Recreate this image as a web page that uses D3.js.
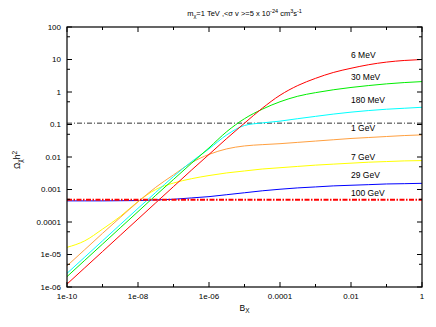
<!DOCTYPE html>
<html>
<head>
<meta charset="utf-8">
<script src="https://cdn.jsdelivr.net/npm/d3@7"></script>
<style>
  body { margin: 0; background: #fff; }
  svg text { font-family: "Liberation Sans", Arial, sans-serif; fill: #000; }
</style>
</head>
<body>
<svg id="chart" width="436" height="327"></svg>
<script>
// B_X grid (half decades from 1e-10 to 1)
const bValues = [1e-10, 3.16e-10, 1e-9, 3.16e-9, 1e-8, 3.16e-8, 1e-7, 3.16e-7, 1e-6, 3.16e-6,
  1e-5, 3.16e-5, 1e-4, 3.16e-4, 1e-3, 3.16e-3, 1e-2, 3.16e-2, 0.1, 0.316, 1];

// Omega_chi h^2 for each mediator mass
const omega6MeV = [1.23e-6, 3.89e-6, 1.23e-5, 3.89e-5, 1.23e-4, 3.89e-4, 1.23e-3, 3.89e-3, 1.20e-2, 3.72e-2,
  0.110, 0.316, 0.794, 1.58, 2.63, 3.98, 5.37, 6.92, 8.32, 9.33, 10.0];
const omega30MeV = [2.09e-6, 6.61e-6, 2.09e-5, 6.61e-5, 2.09e-4, 6.61e-4, 2.04e-3, 6.31e-3, 1.91e-2, 6.03e-2,
  0.151, 0.295, 0.501, 0.741, 0.955, 1.17, 1.38, 1.58, 1.78, 1.95, 2.09];
const omega180MeV = [2.63e-6, 8.32e-6, 2.63e-5, 8.32e-5, 2.63e-4, 8.13e-4, 2.51e-3, 7.08e-3, 1.78e-2, 4.79e-2,
  9.33e-2, 0.112, 0.127, 0.151, 0.178, 0.209, 0.240, 0.269, 0.295, 0.316, 0.339];
const omega1GeV = [4.47e-6, 1.41e-5, 4.47e-5, 1.38e-4, 4.17e-4, 1.17e-3, 2.82e-3, 6.61e-3, 1.20e-2, 1.78e-2,
  2.19e-2, 2.40e-2, 2.57e-2, 2.82e-2, 3.09e-2, 3.39e-2, 3.72e-2, 3.98e-2, 4.27e-2, 4.57e-2, 4.79e-2];
const omega7GeV = [1.66e-5, 2.63e-5, 6.03e-5, 1.48e-4, 4.27e-4, 1.00e-3, 1.58e-3, 2.14e-3, 2.69e-3, 3.24e-3,
  3.72e-3, 4.27e-3, 4.68e-3, 5.13e-3, 5.62e-3, 6.03e-3, 6.46e-3, 6.92e-3, 7.24e-3, 7.59e-3, 7.76e-3];
const omega29GeV = [4.47e-4, 4.47e-4, 4.47e-4, 4.52e-4, 4.57e-4, 4.79e-4, 5.01e-4, 5.50e-4, 6.03e-4, 6.92e-4,
  7.94e-4, 9.12e-4, 1.02e-3, 1.12e-3, 1.20e-3, 1.29e-3, 1.35e-3, 1.41e-3, 1.48e-3, 1.51e-3, 1.55e-3];

const seriesNames = ["6 MeV", "30 MeV", "180 MeV", "1 GeV", "7 GeV", "29 GeV"];
const seriesValues = [omega6MeV, omega30MeV, omega180MeV, omega1GeV, omega7GeV, omega29GeV];
const seriesColors = ["#ff0000", "#00ee00", "#00ffff", "#ffa040", "#ffff00", "#0000ff"];

// horizontal reference levels
const omegaBlackLine = 0.11;
const omegaRedLine = 4.8e-4;

// text labels next to the curves (last one belongs to the red dashed line)
const labelTexts = ["6 MeV", "30 MeV", "180 MeV", "1 GeV", "7 GeV", "29 GeV", "100 GeV"];
const labelOmegas = [13.8, 2.9, 0.56, 0.078, 0.0100, 0.0028, 7.9e-4];

const xTickValues = [1e-10, 1e-8, 1e-6, 1e-4, 1e-2, 1];
const xTickLabels = ["1e-10", "1e-08", "1e-06", "0.0001", "0.01", "1"];
const xMinorValues = [1e-9, 1e-7, 1e-5, 1e-3, 1e-1];
const yTickValues = [1e-6, 1e-5, 1e-4, 1e-3, 1e-2, 0.1, 1, 10, 100];
const yTickLabels = ["1e-06", "1e-05", "0.0001", "0.001", "0.01", "0.1", "1", "10", "100"];
const yMinorValues = [5e-6, 5e-5, 5e-4, 5e-3, 5e-2, 0.5, 5, 50];

const W = 436, H = 327;
const margin = { top: 27, right: 14, bottom: 40, left: 67 };
const iw = W - margin.left - margin.right;
const ih = H - margin.top - margin.bottom;

const svg = d3.select("#chart");
const x = d3.scaleLog().domain([1e-10, 1]).range([0, iw]);
const y = d3.scaleLog().domain([1e-6, 100]).range([ih, 0]);

const g = svg.append("g").attr("transform", `translate(${margin.left},${margin.top})`);

svg.append("defs").append("clipPath").attr("id", "clip")
  .append("rect").attr("width", iw).attr("height", ih);

const plot = g.append("g").attr("clip-path", "url(#clip)");

// reference lines
plot.append("line")
  .attr("x1", 0).attr("x2", iw)
  .attr("y1", y(omegaBlackLine)).attr("y2", y(omegaBlackLine))
  .attr("stroke", "#333").attr("stroke-width", 1)
  .attr("stroke-dasharray", "5,2,1,2");

const line = d3.line()
  .x((d, i) => x(bValues[i]))
  .y(d => y(d))
  .curve(d3.curveMonotoneX);

// draw in reverse so red is on top like the original
seriesValues.slice().reverse().forEach((vals, k) => {
  const idx = seriesValues.length - 1 - k;
  plot.append("path")
    .datum(vals)
    .attr("fill", "none")
    .attr("stroke", seriesColors[idx])
    .attr("stroke-width", 1)
    .attr("d", line);
});

plot.append("line")
  .attr("x1", 0).attr("x2", iw)
  .attr("y1", y(omegaRedLine)).attr("y2", y(omegaRedLine))
  .attr("stroke", "#ff0000").attr("stroke-width", 2)
  .attr("stroke-dasharray", "5,1.5,1.5,1.5");

// curve labels
g.selectAll(".curve-label")
  .data(labelTexts)
  .join("text")
  .attr("class", "curve-label")
  .attr("x", x(1e-2))
  .attr("y", (d, i) => y(labelOmegas[i]))
  .attr("dy", "0.35em")
  .attr("font-size", 8.5)
  .text(d => d);

// frame
g.append("rect")
  .attr("width", iw).attr("height", ih)
  .attr("fill", "none").attr("stroke", "#000").attr("stroke-width", 1.2);

// ticks pointing inwards on all four sides
const tk = g.append("g").attr("stroke", "#000").attr("stroke-width", 1);
xTickValues.forEach(v => {
  tk.append("line").attr("x1", x(v)).attr("x2", x(v)).attr("y1", ih).attr("y2", ih - 5);
  tk.append("line").attr("x1", x(v)).attr("x2", x(v)).attr("y1", 0).attr("y2", 5);
});
xMinorValues.forEach(v => {
  tk.append("line").attr("x1", x(v)).attr("x2", x(v)).attr("y1", ih).attr("y2", ih - 3);
  tk.append("line").attr("x1", x(v)).attr("x2", x(v)).attr("y1", 0).attr("y2", 3);
});
yTickValues.forEach(v => {
  tk.append("line").attr("x1", 0).attr("x2", 5).attr("y1", y(v)).attr("y2", y(v));
  tk.append("line").attr("x1", iw).attr("x2", iw - 5).attr("y1", y(v)).attr("y2", y(v));
});
yMinorValues.forEach(v => {
  tk.append("line").attr("x1", 0).attr("x2", 3).attr("y1", y(v)).attr("y2", y(v));
  tk.append("line").attr("x1", iw).attr("x2", iw - 3).attr("y1", y(v)).attr("y2", y(v));
});

// tick labels
g.selectAll(".xt").data(xTickValues).join("text")
  .attr("x", d => x(d)).attr("y", ih + 12)
  .attr("text-anchor", "middle").attr("font-size", 8)
  .text((d, i) => xTickLabels[i]);
g.selectAll(".yt").data(yTickValues).join("text")
  .attr("x", -6).attr("y", d => y(d)).attr("dy", "0.35em")
  .attr("text-anchor", "end").attr("font-size", 8)
  .text((d, i) => yTickLabels[i]);

// title
const title = svg.append("text")
  .attr("x", margin.left + iw / 2).attr("y", 16)
  .attr("text-anchor", "middle").attr("font-size", 7.5);
title.append("tspan").text("m");
title.append("tspan").attr("font-size", 5.5).attr("dy", 2).text("χ");
title.append("tspan").attr("dy", -2).text("=1 TeV ,<σ v >=5 x 10");
title.append("tspan").attr("font-size", 5.5).attr("dy", -3).text("-24");
title.append("tspan").attr("dy", 3).text(" cm");
title.append("tspan").attr("font-size", 5.5).attr("dy", -3).text("3");
title.append("tspan").attr("dy", 3).text("s");
title.append("tspan").attr("font-size", 5.5).attr("dy", -3).text("-1");

// x label
const xl = svg.append("text")
  .attr("x", margin.left + iw / 2).attr("y", 311)
  .attr("text-anchor", "middle").attr("font-size", 8.5);
xl.append("tspan").text("B");
xl.append("tspan").attr("font-size", 6.5).attr("dy", 2).text("X");

// y label
const yl = svg.append("text")
  .attr("transform", "translate(20,160) rotate(-90)")
  .attr("text-anchor", "middle").attr("font-size", 8.5);
yl.append("tspan").text("Ω");
yl.append("tspan").attr("font-size", 6.5).attr("dy", 2).text("χ");
yl.append("tspan").attr("dy", -2).text("h");
yl.append("tspan").attr("font-size", 6.5).attr("dy", -3).text("2");
</script>
</body>
</html>
